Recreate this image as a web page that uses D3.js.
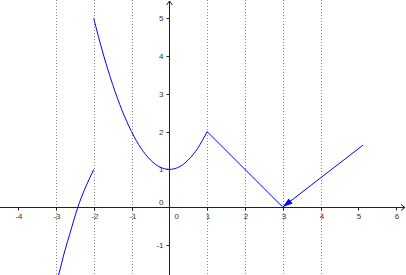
<!DOCTYPE html>
<html>
<head>
<meta charset="utf-8">
<script src="https://cdn.jsdelivr.net/npm/d3@7"></script>
<style>
  body { margin: 0; background: #fff; }
  svg { display: block; font-family: "Liberation Sans", Arial, sans-serif; }
</style>
</head>
<body>
<script>
// values
const xTicks = [-4, -3, -2, -1, 1, 2, 3, 4, 5, 6];
const yTicks = [-1, 1, 2, 3, 4, 5];
const gridX = [-3, -2, -1, 1, 2, 3, 4];

// left piece (ends at x = -2)
const leftX = [-2.97, -2.93, -2.76, -2.63, -2.42, -2.25, -2.13, -2.0];
const leftY = [-1.95, -1.8, -1.14, -0.7, 0, 0.45, 0.72, 1.0];

// middle piece, x from -2 to 1
const midX = [-2, -1.75, -1.5, -1.25, -1, -0.75, -0.5, -0.25, 0, 0.25, 0.5, 0.75, 1];
const midY = [5, 4.06, 3.25, 2.56, 2, 1.56, 1.25, 1.06, 1, 1.06, 1.25, 1.56, 2];

// right piece
const rightX = [1, 3];
const rightY = [2, 0];

// vector ending at (3, 0)
const vecX = [5.12, 3];
const vecY = [1.64, 0];

const width = 406, height = 275;

const x = d3.scaleLinear().domain([-4.48, 6.26]).range([0, width]);
const y = d3.scaleLinear().domain([-1.8, 5.49]).range([height, 0]);

const svg = d3.select("body").append("svg")
  .attr("width", width)
  .attr("height", height);

svg.append("defs").append("clipPath").attr("id", "clip")
  .append("rect").attr("width", width).attr("height", height);

// dotted vertical lines
svg.selectAll(".grid")
  .data(gridX)
  .enter()
  .append("line")
  .attr("class", "grid")
  .attr("x1", d => Math.round(x(d)) + 0.5)
  .attr("x2", d => Math.round(x(d)) + 0.5)
  .attr("y1", 0)
  .attr("y2", height)
  .style("stroke", "#888")
  .style("stroke-width", 1)
  .style("stroke-dasharray", "1,2");

const x0 = Math.round(x(0)) + 0.5;
const y0 = Math.round(y(0)) + 0.5;

// axes
svg.append("line")
  .attr("x1", 0).attr("x2", width - 1)
  .attr("y1", y0).attr("y2", y0)
  .style("stroke", "#222");
svg.append("line")
  .attr("x1", x0).attr("x2", x0)
  .attr("y1", 1).attr("y2", height)
  .style("stroke", "#222");

// arrow tips
svg.append("path")
  .attr("d", `M${width - 5},${y0 - 3} L${width - 1},${y0} L${width - 5},${y0 + 3}`)
  .style("fill", "none").style("stroke", "#222");
svg.append("path")
  .attr("d", `M${x0 - 3},5 L${x0},1 L${x0 + 3},5`)
  .style("fill", "none").style("stroke", "#222");

// x ticks and labels
svg.selectAll(".xtick")
  .data(xTicks)
  .enter()
  .append("line")
  .attr("class", "xtick")
  .attr("x1", d => Math.round(x(d)) + 0.5)
  .attr("x2", d => Math.round(x(d)) + 0.5)
  .attr("y1", y0)
  .attr("y2", y0 + 3)
  .style("stroke", "#222");

svg.selectAll(".xlab")
  .data(xTicks)
  .enter()
  .append("text")
  .attr("class", "xlab")
  .attr("x", d => Math.round(x(d)) + 1)
  .attr("y", y0 + 11)
  .attr("text-anchor", "middle")
  .style("font-size", "8px")
  .style("fill", "#333")
  .text(d => d);

// y ticks and labels
svg.selectAll(".ytick")
  .data(yTicks)
  .enter()
  .append("line")
  .attr("class", "ytick")
  .attr("x1", x0 - 3)
  .attr("x2", x0)
  .attr("y1", d => Math.round(y(d)) + 0.5)
  .attr("y2", d => Math.round(y(d)) + 0.5)
  .style("stroke", "#222");

svg.selectAll(".ylab")
  .data(yTicks)
  .enter()
  .append("text")
  .attr("class", "ylab")
  .attr("x", x0 - 6)
  .attr("y", d => y(d) + 3)
  .attr("text-anchor", "end")
  .style("font-size", "8px")
  .style("fill", "#333")
  .text(d => d);

// the two "0" labels at the origin
svg.append("text")
  .attr("x", x0 - 6).attr("y", y0 - 3)
  .attr("text-anchor", "end")
  .style("font-size", "8px").style("fill", "#333")
  .text("0");
svg.append("text")
  .attr("x", x0 + 5).attr("y", y0 + 11)
  .style("font-size", "8px").style("fill", "#333")
  .text("0");

// curves
const line = d3.line().x(d => x(d[0])).y(d => y(d[1])).curve(d3.curveMonotoneX);
const plot = svg.append("g").attr("clip-path", "url(#clip)");

function drawPiece(xs, ys, straight) {
  const pts = xs.map((v, i) => [v, ys[i]]);
  plot.append("path")
    .datum(pts)
    .attr("d", straight ? d3.line().x(d => x(d[0])).y(d => y(d[1]))(pts) : line(pts))
    .style("fill", "none")
    .style("stroke", "#0000ff")
    .style("stroke-width", 1);
}

drawPiece(leftX, leftY, false);
drawPiece(midX, midY, false);
drawPiece(rightX, rightY, true);
drawPiece(vecX, vecY, true);

// arrowhead at the end of the vector
const ex = x(vecX[1]), ey = y(vecY[1]);
const ang = Math.atan2(y(vecY[0]) - ey, x(vecX[0]) - ex);
const len = 10, half = 3.2;
const bx = ex + len * Math.cos(ang), by = ey + len * Math.sin(ang);
const px = -Math.sin(ang) * half, py = Math.cos(ang) * half;
svg.append("path")
  .attr("d", `M${ex},${ey} L${bx + px},${by + py} L${bx - px},${by - py} Z`)
  .style("fill", "#0000ff")
  .style("stroke", "none");
</script>
</body>
</html>
